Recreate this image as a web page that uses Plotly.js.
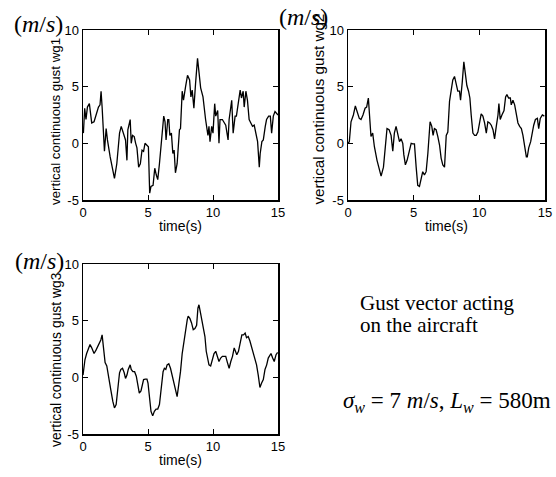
<!DOCTYPE html>
<html>
<head>
<meta charset="utf-8">
<script src="https://cdn.plot.ly/plotly-3.0.1.min.js"></script>
<style>
  html, body { margin: 0; padding: 0; background: #fff; }
  #chart { width: 556px; height: 477px; }
</style>
</head>
<body>
<div id="chart"></div>
<script>
// Vertical continuous gust wg1 (m/s) against time (s)
const time1 = [0.03,0.13,0.23,0.34,0.49,0.67,0.85,1.0,1.19,1.31,1.39,1.47,1.57,1.65,1.78,1.88,2.09,2.27,2.42,2.6,2.81,2.94,3.12,3.27,3.38,3.45,3.63,3.71,3.81,3.94,4.05,4.15,4.28,4.41,4.54,4.66,4.77,4.92,5.03,5.13,5.23,5.39,5.52,5.64,5.75,5.88,6.0,6.11,6.21,6.31,6.39,6.52,6.6,6.68,6.8,6.91,7.01,7.11,7.24,7.42,7.5,7.63,7.73,7.89,8.04,8.2,8.3,8.4,8.53,8.66,8.81,9.05,9.23,9.43,9.61,9.69,9.77,9.9,10.0,10.13,10.21,10.36,10.46,10.54,10.72,10.98,11.16,11.24,11.44,11.55,11.7,11.8,11.96,12.09,12.19,12.32,12.4,12.53,12.65,12.78,12.91,13.04,13.17,13.25,13.43,13.56,13.63,13.76,13.87,14.02,14.12,14.28,14.41,14.51,14.64,14.77,15.0];
const wg1 = [0.9,3.1,2.1,3.2,3.5,1.8,1.9,2.5,3.2,3.4,4.6,3.2,1.5,-0.7,1.3,0.3,-1.2,-2.4,-3.1,-1.8,0.9,1.5,0.9,0.3,-1.5,1.2,2.1,0,0.7,0.6,0,-0.4,-2.1,-1.8,-0.6,-0.7,0,-0.15,-0.3,-4.4,-3.8,-3.7,-2.2,-2.8,-3.2,-1.8,-0.3,1.5,2.4,1.9,0.3,2.1,2.1,0.7,0.9,-0.9,-0.6,-2.6,-1.8,1.2,1.3,4.6,3.8,5.0,6.0,5.6,4.1,4.7,3.1,5.3,7.5,4.9,4.1,2.1,0.7,1.5,0.15,1.5,0.9,3.5,2.4,2.9,0,2.1,2.1,1.6,0.3,2.1,3.8,0.9,2.4,2.4,3.7,4.7,4.0,4.6,3.2,4.6,3.8,2.1,1.8,1.5,1.6,1.2,0.15,-2.1,-0.9,0.15,0.3,1.5,2.1,2.4,2.4,0.9,2.4,2.8,2.5];

// Vertical continuous gust wg2 (m/s) against time (s)
const time2 = [0.0,0.1,0.23,0.41,0.56,0.69,0.86,0.99,1.14,1.3,1.42,1.55,1.63,1.75,1.88,2.01,2.21,2.39,2.52,2.7,2.82,2.97,3.13,3.28,3.41,3.53,3.66,3.79,3.92,4.04,4.17,4.25,4.37,4.5,4.65,4.81,4.93,5.06,5.19,5.31,5.44,5.56,5.69,5.82,5.95,6.08,6.25,6.38,6.48,6.58,6.71,6.84,6.97,7.09,7.22,7.35,7.48,7.6,7.73,7.86,7.98,8.11,8.24,8.36,8.49,8.57,8.7,8.82,8.93,9.05,9.18,9.28,9.38,9.51,9.64,9.76,9.89,10.02,10.14,10.27,10.4,10.53,10.65,10.78,10.91,11.04,11.16,11.29,11.42,11.49,11.59,11.72,11.88,12.0,12.1,12.23,12.36,12.43,12.56,12.69,12.81,12.94,13.07,13.2,13.32,13.45,13.58,13.65,13.76,13.91,14.01,14.14,14.27,14.42,14.52,14.64,14.8,14.95];
const wg2 = [0.0,0.15,1.9,2.5,3.3,2.9,2.2,2.1,2.5,3.1,3.2,4.0,2.6,0.6,0.9,-0.3,-1.5,-2.4,-2.9,-2.1,-0.4,1.3,1.2,0.7,-0.7,0.9,1.5,0.7,0.15,0.4,0,-1.0,-1.9,-1.5,-0.7,0,-0.05,-0.05,-2.1,-3.7,-3.8,-3.2,-2.5,-2.8,-2.5,-0.9,1.9,1.5,0.7,1.3,1.2,0.6,-0.15,-1.3,-1.9,-2.1,0.7,1.0,3.7,4.7,5.6,5.9,5.1,4.6,4.6,3.8,5.4,7.2,6.2,5.1,4.6,4.0,2.5,0.9,0.7,0.7,1.0,1.8,2.6,2.4,1.8,0.9,1.9,1.8,1.6,1.2,0.4,1.5,2.5,3.5,2.1,2.5,2.9,4.1,4.3,4.0,4.0,3.4,3.8,3.4,2.6,1.8,1.5,1.3,0.7,-0.4,-1.2,-1.2,-0.4,0.15,0.9,1.6,2.1,2.2,1.3,2.2,2.5,2.4];

// Vertical continuous gust wg3 (m/s) against time (s)
const time3 = [0.0,0.15,0.28,0.41,0.54,0.67,0.85,1.0,1.19,1.37,1.47,1.57,1.7,1.83,1.96,2.14,2.29,2.42,2.55,2.68,2.81,2.91,3.04,3.17,3.27,3.38,3.48,3.63,3.71,3.84,3.97,4.1,4.2,4.33,4.46,4.56,4.66,4.79,4.92,5.0,5.1,5.23,5.36,5.49,5.62,5.75,5.88,6.0,6.16,6.26,6.37,6.47,6.6,6.73,6.86,6.98,7.11,7.24,7.37,7.5,7.63,7.76,7.89,8.02,8.09,8.22,8.35,8.48,8.61,8.74,8.84,8.92,9.02,9.12,9.25,9.38,9.48,9.59,9.69,9.82,9.95,10.08,10.21,10.34,10.46,10.59,10.72,10.85,10.98,11.11,11.24,11.37,11.5,11.63,11.71,11.83,11.96,12.09,12.22,12.35,12.47,12.58,12.71,12.84,12.97,13.1,13.22,13.35,13.48,13.61,13.74,13.87,14.0,14.13,14.25,14.38,14.46,14.59,14.71,14.85,14.97];
const wg3 = [0.2,1.55,2.1,2.6,2.9,2.6,2.1,2.4,2.9,3.3,3.75,2.6,1.3,1.0,-0.05,-1.1,-2.1,-2.7,-2.4,-1.2,0.4,0.7,0.8,0.4,-0.1,0.2,0.7,1.1,0.7,0.5,0.5,0.1,-0.5,-1.4,-1.2,-0.8,-0.2,-0.15,-0.15,-0.5,-1.8,-3.0,-3.4,-3.0,-2.8,-2.8,-2.4,-1.2,0.5,0.8,0.7,1.1,1.2,0.8,0.1,-0.5,-1.3,-1.7,-0.6,0.5,2.1,3.2,4.2,5.1,5.4,5.2,4.8,4.2,4.3,4.6,6.1,6.4,5.8,5.2,4.2,3.6,2.3,1.55,1.1,1.0,1.55,2.1,2.3,1.85,1.4,1.7,1.85,1.85,1.85,1.3,0.8,1.4,1.85,2.6,2.3,2.0,2.3,3.0,3.75,3.75,3.9,3.5,3.6,3.2,2.6,2.0,1.7,1.1,0.2,-0.9,-0.5,-0.2,0.7,1.1,1.7,2.0,2.1,1.7,1.4,2.0,2.2];

const yTitles = ['vertical continuous gust wg1', 'vertical continuous gust wg2', 'vertical continuous gust wg3'];
const xTitle = 'time(s)';
const xTickVals = [0, 5, 10, 15];
const xTickText = ['0', '5', '10', '15'];
const yTickVals = [-5, 0, 5, 10];
const yTickText = ['-5', '0', '5', '10'];

const W = 556, H = 477;
const sans = 'Liberation Sans, Arial, sans-serif';
const serif = 'Liberation Serif, Times New Roman, serif';

// pixel box -> paper fractions
const dx = (a, b) => [a / W, b / W];
const dy = (top, bottom) => [1 - bottom / H, 1 - top / H];
const px = (v) => v / W;
const py = (v) => 1 - v / H;

function xAxis(domain, anchor) {
  return {
    domain: domain, anchor: anchor, range: [0, 15],
    showline: true, linecolor: '#000', linewidth: 1.5, mirror: 'ticks',
    ticks: 'inside', ticklen: 5, tickwidth: 1, tickcolor: '#000',
    showgrid: false, zeroline: false,
    tickmode: 'array', tickvals: xTickVals, ticktext: xTickText,
    tickfont: { family: sans, size: 13, color: '#000' },
    title: { text: xTitle, font: { family: sans, size: 14, color: '#000' }, standoff: 2 }
  };
}
function yAxis(domain, anchor) {
  return {
    domain: domain, anchor: anchor, range: [-5, 10],
    showline: true, linecolor: '#000', linewidth: 1.5, mirror: 'ticks',
    ticks: 'inside', ticklen: 5, tickwidth: 1, tickcolor: '#000',
    showgrid: false, zeroline: false,
    tickmode: 'array', tickvals: yTickVals, ticktext: yTickText,
    tickfont: { family: sans, size: 13, color: '#000' }
  };
}

// rotated y labels, placed beside each frame
function yLabel(text, cx, cy, size) {
  return { text: text, xref: 'paper', yref: 'paper', x: px(cx), y: py(cy),
    xanchor: 'center', yanchor: 'middle', textangle: -90, showarrow: false,
    font: { family: sans, size: size, color: '#000' } };
}
function unitLabel(cx, cy) {
  return { text: '(<i>m</i>/<i>s</i>)', xref: 'paper', yref: 'paper', x: px(cx), y: py(cy),
    xanchor: 'center', yanchor: 'middle', showarrow: false,
    font: { family: serif, size: 24, color: '#000' } };
}
function note(text, left, cy, size) {
  return { text: text, xref: 'paper', yref: 'paper', x: px(left), y: py(cy),
    xanchor: 'left', yanchor: 'middle', align: 'left', showarrow: false,
    font: { family: serif, size: size, color: '#000' } };
}

const lineStyle = { color: '#000', width: 1.3 };
const traces = [
  { x: time1, y: wg1, xaxis: 'x', yaxis: 'y', mode: 'lines', line: lineStyle, hoverinfo: 'skip' },
  { x: time2, y: wg2, xaxis: 'x2', yaxis: 'y2', mode: 'lines', line: lineStyle, hoverinfo: 'skip' },
  { x: time3, y: wg3, xaxis: 'x3', yaxis: 'y3', mode: 'lines', line: lineStyle, hoverinfo: 'skip' }
];

const layout = {
  width: W, height: H,
  margin: { l: 0, r: 0, t: 0, b: 0 },
  paper_bgcolor: '#fff', plot_bgcolor: '#fff',
  showlegend: false,
  xaxis: xAxis(dx(83, 278), 'y'),
  yaxis: yAxis(dy(30, 200), 'x'),
  xaxis2: xAxis(dx(348, 545), 'y2'),
  yaxis2: yAxis(dy(30, 200), 'x2'),
  xaxis3: xAxis(dx(83, 278), 'y3'),
  yaxis3: yAxis(dy(264, 434), 'x3'),
  annotations: [
    yLabel(yTitles[0], 55.5, 121.5, 13.3),
    yLabel(yTitles[1], 317.5, 109, 15.2),
    yLabel(yTitles[2], 55.5, 359.5, 13.9),
    unitLabel(38, 24),
    unitLabel(303, 17),
    unitLabel(39, 261),
    note('Gust vector acting', 358, 303, 21),
    note('on the aircraft', 358, 325, 21),
    note('<i>σ</i><sub><i>w</i></sub> = 7 <i>m</i>/<i>s</i>, <i>L</i><sub><i>w</i></sub> = 580m', 341, 402, 23)
  ]
};

Plotly.newPlot('chart', traces, layout, { staticPlot: true, displayModeBar: false });
</script>
</body>
</html>
